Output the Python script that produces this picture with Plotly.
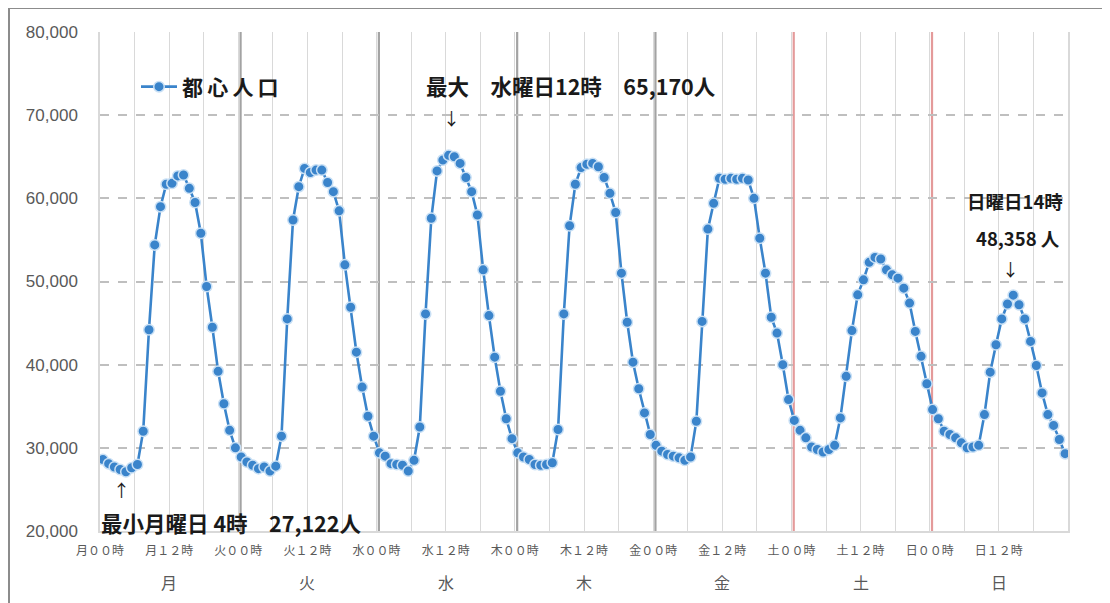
import plotly.graph_objects as go

# ---- data ----
days = ["月", "火", "水", "木", "金", "土", "日"]
mon = [28600, 28100, 27700, 27400, 27122, 27600, 28000, 32000, 44200, 54400, 59000, 61700,
       61800, 62700, 62800, 61200, 59500, 55800, 49400, 44500, 39200, 35300, 32100, 30000]
tue = [28900, 28300, 27900, 27500, 27700, 27200, 27800, 31400, 45500, 57400, 61400, 63600,
       63100, 63400, 63400, 61900, 60800, 58500, 52000, 46900, 41500, 37300, 33800, 31400]
wed = [29400, 29000, 28100, 28000, 27900, 27200, 28500, 32500, 46100, 57600, 63300, 64600,
       65170, 65000, 64200, 62500, 60800, 58000, 51400, 45900, 40900, 36800, 33500, 31100]
thu = [29400, 28900, 28600, 28000, 27900, 28000, 28200, 32200, 46100, 56700, 61700, 63700,
       64100, 64200, 63800, 62500, 60600, 58300, 51000, 45100, 40300, 37100, 34200, 31600]
fri = [30300, 29600, 29200, 29000, 28800, 28500, 28900, 33200, 45200, 56300, 59400, 62400,
       62300, 62400, 62300, 62400, 62200, 60000, 55200, 51000, 45700, 43800, 40000, 35800]
sat = [33300, 32100, 31200, 30100, 29800, 29500, 29800, 30300, 33600, 38600, 44100, 48400,
       50200, 52300, 52900, 52700, 51400, 50800, 50400, 49200, 47400, 44000, 41000, 37700]
sun = [34600, 33500, 32000, 31600, 31200, 30600, 30000, 30100, 30300, 34000, 39100, 42400,
       45500, 47300, 48358, 47200, 45500, 42800, 39900, 36600, 34000, 32700, 31000, 29300]

series_name = "都\u2009心\u2009人\u2009口"
label_max = "最大\u3000水曜日12時\u300065,170人"
label_min = "最小月曜日 4時\u300027,122人"
label_sun1 = "日曜日14時"
label_sun2 = "48,358 人"

population = mon + tue + wed + thu + fri + sat + sun
hours = [i + 0.5 for i in range(len(population))]

tick_hours = list(range(0, 168, 12))
tick_text = [days[h // 24] + ("００" if h % 24 == 0 else "１２") + "時" for h in tick_hours]

# ---- layout helpers (page body has an 8px margin) ----
W, H = 1102, 595
L, R, T, B = 92, 42, 24, 72
PW, PH = W - L - R, H - T - B
def px(x):  # reference-image x pixel -> paper
    return (x - 8 - L) / PW
def py(y):  # reference-image y pixel -> paper
    return (H - B - (y - 8)) / PH

BLUE = "#3A84CB"
JP = "Noto Sans CJK JP"

fig = go.Figure()
fig.add_trace(go.Scatter(
    x=hours, y=population, mode="lines+markers", name="<b>" + series_name + "</b>",
    line=dict(color=BLUE, width=2.6),
    marker=dict(size=10.5, color=BLUE, line=dict(color="#C9E0F5", width=1.5)),
))

shapes = []
for d in range(1, 7):
    col = "#A3A3A3" if d <= 4 else "#E49A9A"
    shapes.append(dict(type="line", xref="x", yref="paper", x0=24 * d + 0.4, x1=24 * d + 0.4,
                       y0=0, y1=1, line=dict(color=col, width=2.2), layer="between"))
# outer frame (left and top edges)
shapes.append(dict(type="line", xref="paper", yref="paper", x0=px(9), x1=px(9), y0=py(8), y1=py(640),
                   line=dict(color="#8C8C8C", width=2)))
shapes.append(dict(type="line", xref="paper", yref="paper", x0=px(9), x1=px(1140), y0=py(8), y1=py(8),
                   line=dict(color="#8C8C8C", width=2)))

def note(x, y, text, font, xref="paper"):
    return dict(x=x, y=y, xref=xref, yref="paper", text=text, showarrow=False,
                xanchor="center", yanchor="middle", font=font)

annotations = []
for d, name in enumerate(days):
    annotations.append(note(24 * d + 12, py(582), name,
                            dict(family=JP, size=16, color="#595959"), xref="x"))

big_font = dict(family=JP, size=21.5, color="#1a1a1a")
sun_font = dict(family=JP, size=18.5, color="#1a1a1a")
arrow_font = dict(family=JP, size=17, color="#1a1a1a")
annotations += [
    note(px(571), py(85), "<b>" + label_max + "</b>", big_font),
    note(px(451), py(118), "↓", arrow_font),
    note(px(231), py(522), "<b>" + label_min + "</b>", big_font),
    note(px(121), py(489), "↑", arrow_font),
    note(px(1015), py(201), "<b>" + label_sun1 + "</b>", sun_font),
    note(px(1018), py(238), "<b>" + label_sun2 + "</b>", sun_font),
    note(px(1010), py(268), "↓", arrow_font),
]

fig.update_layout(
    width=W, height=H,
    margin=dict(l=L, r=R, t=T, b=B),
    paper_bgcolor="white", plot_bgcolor="white",
    showlegend=True,
    legend=dict(x=px(136), y=py(87), xanchor="left", yanchor="middle", itemwidth=36,
                font=dict(family=JP, size=21, color="#1a1a1a"), bgcolor="rgba(0,0,0,0)"),
    shapes=shapes, annotations=annotations,
    xaxis=dict(range=[0, 168], tickmode="array", tickvals=tick_hours, ticktext=tick_text,
               showgrid=True, gridcolor="#D9D9D9", gridwidth=1,
               minor=dict(tickmode="linear", tick0=0, dtick=6, showgrid=True, gridcolor="#D9D9D9", gridwidth=1),
               showline=True, linecolor="#D9D9D9", linewidth=1.5, zeroline=False,
               ticks="outside", ticklen=8, tickcolor="rgba(0,0,0,0)",
               tickfont=dict(family=JP, size=12, color="#595959")),
    yaxis=dict(range=[20000, 80000], dtick=10000, tickformat=",",
               showgrid=True, gridcolor="#BFBFBF", griddash="dash", gridwidth=1.5,
               showline=True, mirror=True, linecolor="#D9D9D9", linewidth=1.5, zeroline=False,
               ticks="outside", ticklen=0, ticklabelstandoff=17,
               tickfont=dict(family="Liberation Sans", size=17, color="#595959")),
)

fig.write_html("out.html")
